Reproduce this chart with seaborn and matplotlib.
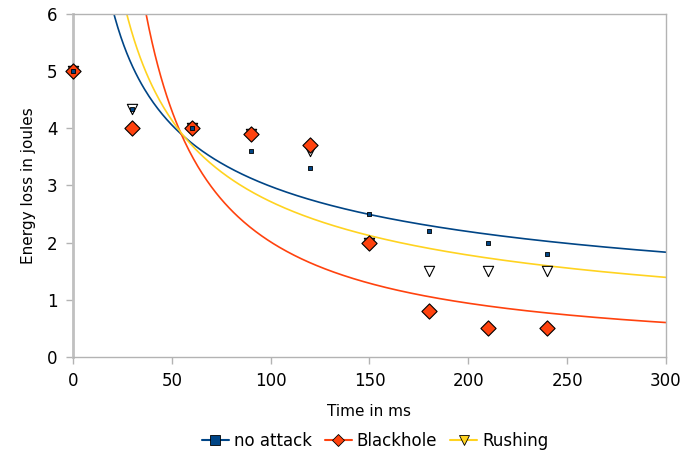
import numpy as np
import pandas as pd
import matplotlib
matplotlib.use("Agg")
import matplotlib.pyplot as plt
from matplotlib.lines import Line2D
import seaborn as sns

# données
time_ms = [0, 30, 60, 90, 120, 150, 180, 210, 240]
no_attack = [5.0, 4.33, 4.0, 3.6, 3.3, 2.5, 2.2, 2.0, 1.8]
blackhole = [5.0, 4.0, 4.0, 3.9, 3.7, 2.0, 0.8, 0.5, 0.5]
rushing = [5.0, 4.33, 4.0, 3.9, 3.6, 2.0, 1.5, 1.5, 1.5]

labels = ["no attack", "Blackhole", "Rushing"]
colors = {"no attack": "#004586", "Blackhole": "#ff420e", "Rushing": "#ffd320"}

df = pd.DataFrame({"time": time_ms, "no attack": no_attack,
                   "Blackhole": blackhole, "Rushing": rushing})
long = df.melt(id_vars="time", var_name="series", value_name="energy")

sns.set_style("white", {"text.color": "black", "axes.labelcolor": "black",
                        "xtick.color": "black", "ytick.color": "black"})
plt.rcParams['font.family'] = ['DejaVu Sans']

fig, ax = plt.subplots(figsize=(6.82, 4.63), dpi=100)
fig.subplots_adjust(left=0.107, right=0.9765, top=0.97, bottom=0.229)

# courbes de tendance (puissance, x > 0 comme le tableur)
xs = np.linspace(1, 300, 400)
trend_rows = []
for name in labels:
    sub = long[(long.series == name) & (long.time > 0)]
    b, lna = np.polyfit(np.log(sub.time), np.log(sub.energy), 1)
    trend_rows.append(pd.DataFrame({"time": xs, "energy": np.exp(lna) * xs ** b, "series": name}))
trend = pd.concat(trend_rows)
sns.lineplot(data=trend, x="time", y="energy", hue="series", palette=colors,
             linewidth=1.2, legend=False, ax=ax, zorder=2)

# points
sns.scatterplot(data=long[long.series == "Rushing"], x="time", y="energy", marker="v",
                s=55, color="white", edgecolor="black", linewidth=0.8, ax=ax, zorder=3,
                legend=False)
sns.scatterplot(data=long[long.series == "Blackhole"], x="time", y="energy", marker="D",
                s=60, color=colors["Blackhole"], edgecolor="black", linewidth=0.8, ax=ax,
                zorder=4, legend=False)
sns.scatterplot(data=long[long.series == "no attack"], x="time", y="energy", marker="s",
                s=12, color=colors["no attack"], edgecolor="black", linewidth=0.6, ax=ax,
                zorder=5, legend=False)
for coll in ax.collections:
    coll.set_clip_on(False)

ax.set_xlim(0, 300)
ax.set_ylim(0, 6)
ax.set_xticks(range(0, 301, 50))
ax.set_yticks(range(0, 7))
ax.set_xlabel("Time in ms", fontsize=11, labelpad=10)
ax.set_ylabel("Energy loss in joules", fontsize=11, labelpad=8)
ax.tick_params(axis="both", labelsize=12, direction="out", length=5, width=1,
               color="#b3b3b3", labelcolor="black", bottom=True, left=True, pad=6)
for side in ["top", "right", "bottom"]:
    ax.spines[side].set_color("#b3b3b3")
    ax.spines[side].set_linewidth(1)
ax.spines["left"].set_color("#c0c0c0")
ax.spines["left"].set_linewidth(2)

handles = [
    Line2D([], [], color=colors["no attack"], marker="s", markersize=7,
           markerfacecolor=colors["no attack"], markeredgecolor="black", markeredgewidth=0.6),
    Line2D([], [], color=colors["Blackhole"], marker="D", markersize=6,
           markerfacecolor=colors["Blackhole"], markeredgecolor="black", markeredgewidth=0.6),
    Line2D([], [], color=colors["Rushing"], marker="v", markersize=7,
           markerfacecolor=colors["Rushing"], markeredgecolor="black", markeredgewidth=0.6),
]
fig.legend(handles, labels, loc="lower center", ncol=3, frameon=False, fontsize=12,
           handlelength=1.6, handletextpad=0.3, columnspacing=0.8,
           bbox_to_anchor=(0.55, -0.005))

plt.savefig("out.png", dpi=100)
